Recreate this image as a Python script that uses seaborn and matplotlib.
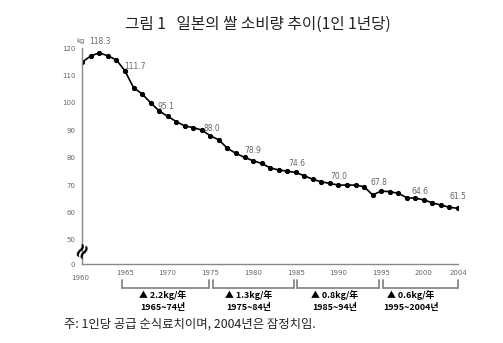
import matplotlib
matplotlib.use("Agg")
import matplotlib.pyplot as plt
import matplotlib.transforms as mtransforms
import seaborn as sns
import pandas as pd

# Per-capita annual rice consumption in Japan (kg)
years = list(range(1960, 2005))
consumption = [114.9, 117.2, 118.3, 117.2, 115.7, 111.7, 105.6, 103.3, 100.1, 97.1,
               95.1, 93.2, 91.6, 91.0, 90.1, 88.0, 86.5, 83.4, 81.6, 80.1,
               78.9, 77.9, 76.3, 75.5, 75.1, 74.6, 73.4, 72.1, 71.2, 70.6,
               70.0, 70.0, 70.0, 69.4, 66.4, 67.8, 67.6, 67.0, 65.4, 65.2,
               64.6, 63.5, 62.7, 61.9, 61.5]

# Years whose values are written next to the line
labeled_years = [1962, 1965, 1970, 1975, 1980, 1985, 1990, 1995, 2000, 2004]
label_offsets = [(1, 11), (11, 4), (-2, 10), (1, 7), (0, 10), (1, 9), (0, 9), (-2, 9), (-4, 8), (0, 12)]

x_tick_years = [1965, 1970, 1975, 1980, 1985, 1990, 1995, 2000, 2004]
y_tick_values = [41, 50, 60, 70, 80, 90, 100, 110, 120]
y_tick_labels = ["0", "50", "60", "70", "80", "90", "100", "110", "120"]

# Decade-by-decade decline summary
period_starts = [1964.7, 1975.3, 1985.2, 1995.2]
period_ends = [1974.8, 1984.8, 1994.8, 2004.0]
period_rates = ["▲ 2.2kg/年", "▲ 1.3kg/年", "▲ 0.8kg/年", "▲ 0.6kg/年"]
period_names = ["1965~74년", "1975~84년", "1985~94년", "1995~2004년"]
period_text_x = [1969.4, 1979.5, 1989.5, 1998.5]

title = "그림 1   일본의 쌀 소비량 추이(1인 1년당)"
note = "주: 1인당 공급 순식료치이며, 2004년은 잠정치임."

sns.set_style("white")
plt.rcParams["font.family"] = ["Noto Sans CJK KR", "DejaVu Sans"]

df = pd.DataFrame({"year": years, "kg": consumption})

fig = plt.figure(figsize=(5.03, 3.43), dpi=100)
ax = fig.add_axes([0.1636, 0.2289, 0.747, 0.6306])

sns.lineplot(data=df, x="year", y="kg", ax=ax, color="black", linewidth=1.2,
             marker="o", markersize=3.0, markeredgecolor="black", markerfacecolor="black")

ax.set_xlim(1960, 2004)
ax.set_ylim(41, 120)
ax.set_xlabel("")
ax.set_ylabel("")

axis_grey = "#888888"
label_grey = "#666666"
for side in ["top", "right"]:
    ax.spines[side].set_visible(False)
for side in ["left", "bottom"]:
    ax.spines[side].set_color(axis_grey)
    ax.spines[side].set_linewidth(1.0)

ax.set_xticks(x_tick_years)
ax.set_xticks(years, minor=True)
ax.set_yticks(y_tick_values)
ax.set_yticklabels(y_tick_labels)
ax.tick_params(axis="both", which="both", direction="in", length=2.5, width=0.7,
               color=axis_grey, labelsize=5, labelcolor=label_grey)
ax.tick_params(axis="x", pad=4)
ax.tick_params(axis="y", pad=5)
ax.tick_params(axis="y", which="minor", length=0)
for lab in ax.get_xticklabels() + ax.get_yticklabels():
    lab.set_family(["DejaVu Sans"])

blend = mtransforms.blended_transform_factory(ax.transData, ax.transAxes)

# first year label sits a little lower than the others
ax.text(1959.8, -0.062, "1960", transform=blend, ha="center", va="center",
        fontsize=5, color=label_grey, family=["DejaVu Sans"])

# axis break mark
ax.text(1960, 0.067, "≈", transform=blend, ha="center", va="center", fontsize=15,
        fontweight="bold", rotation=62, color="black", clip_on=False,
        family=["DejaVu Sans"])

# unit
ax.text(1959.8, 121.5, "kg", ha="center", va="bottom", fontsize=5,
        color=label_grey, family=["DejaVu Sans"])

# value labels
for yr, (dx, dy) in zip(labeled_years, label_offsets):
    val = consumption[years.index(yr)]
    ha = "left" if yr == 1965 else "center"
    ax.annotate(f"{val:.1f}", xy=(yr, val), xytext=(dx if ha == "center" else -1, dy),
                textcoords="offset pixels", ha=ha, va="center", fontsize=5.5,
                color=label_grey, family=["DejaVu Sans"], annotation_clip=False)

# period brackets and their summaries
for x0, x1, rate, name, tx in zip(period_starts, period_ends, period_rates, period_names, period_text_x):
    ax.plot([x0, x0, x1, x1], [-0.072, -0.107, -0.107, -0.072], transform=blend,
            color=axis_grey, linewidth=1.3, clip_on=False, solid_joinstyle="miter")
    ax.text(tx, -0.141, rate, transform=blend, ha="center", va="center",
            fontsize=6.4, fontweight="bold", color="black")
    ax.text(tx, -0.199, name, transform=blend, ha="center", va="center",
            fontsize=6.4, fontweight="bold", color="black")

fig.text(258 / 503, 1 - 24 / 343, title, ha="center", va="center", fontsize=11.3, color="#222222")
fig.text(64 / 503, 1 - 324 / 343, note, ha="left", va="center", fontsize=8.9, color="#222222")

fig.savefig("out.png", dpi=100)
